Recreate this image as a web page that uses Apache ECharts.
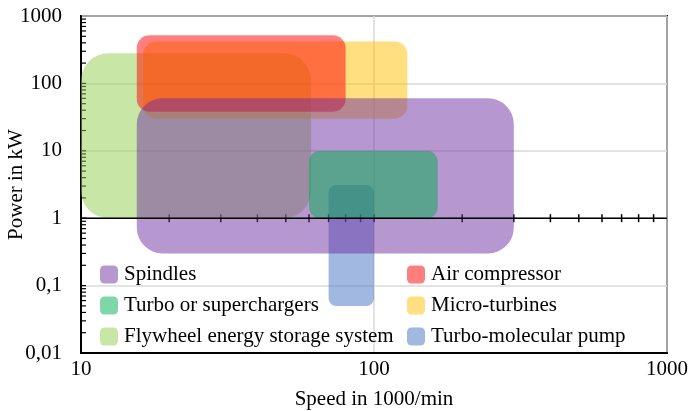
<!DOCTYPE html>
<html>
<head>
<meta charset="utf-8">
<script src="https://cdn.jsdelivr.net/npm/echarts@6/dist/echarts.min.js"></script>
<style>
  html, body { margin: 0; padding: 0; background: #fff; }
  #chart { width: 689px; height: 411px; }
</style>
</head>
<body>
<div id="chart"></div>
<script>
// Operating ranges of high-speed machine applications (log-log map)
const applications = ['Flywheel energy storage system', 'Turbo-molecular pump', 'Micro-turbines',
                      'Air compressor', 'Spindles', 'Turbo or superchargers'];
// speed range in 1000/min
const speedMin = [10, 70, 16.3, 15.5, 15.5, 60];
const speedMax = [61, 100, 130, 80, 300, 165];
// power range in kW
const powerMin = [1, 0.05, 30, 38, 0.3, 1];
const powerMax = [280, 3.1, 420, 520, 60, 10];
const fills = ['rgba(146,208,80,0.5)', 'rgba(68,114,196,0.5)', 'rgba(255,192,0,0.5)',
               'rgba(255,0,0,0.5)', 'rgba(112,48,160,0.5)', 'rgba(0,176,80,0.5)'];

const legendLeft = ['Spindles', 'Turbo or superchargers', 'Flywheel energy storage system'];
const legendRight = ['Air compressor', 'Micro-turbines', 'Turbo-molecular pump'];

// minor tick positions on the speed axis drawn through P = 1 kW, and on the power axis
const speedTicks = [20, 30, 40, 50, 60, 70, 80, 90, 100, 200, 300, 400, 500, 600, 700, 800, 900];
const powerTicks = [0.02, 0.03, 0.04, 0.05, 0.06, 0.07, 0.08, 0.09, 0.1,
                    0.2, 0.3, 0.4, 0.5, 0.6, 0.7, 0.8, 0.9, 1,
                    2, 3, 4, 5, 6, 7, 8, 9, 10,
                    20, 30, 40, 50, 60, 70, 80, 90, 100,
                    200, 300, 400, 500, 600, 700, 800, 900];
const speedRange = [10, 1000];
const powerRange = [0.01, 1000];
const crossPower = 1;

const FONT = 'Liberation Serif';

function renderRange(params, api) {
  const tl = api.coord([api.value(0), api.value(3)]);
  const br = api.coord([api.value(1), api.value(2)]);
  const w = br[0] - tl[0];
  const h = br[1] - tl[1];
  return {
    type: 'rect',
    shape: { x: tl[0], y: tl[1], width: w, height: h, r: Math.min(w, h) / 6 },
    style: { fill: api.visual('color') }
  };
}

const rangeSeries = applications.map((name, i) => ({
  type: 'custom',
  name: name,
  renderItem: renderRange,
  itemStyle: { color: fills[i] },
  encode: { x: [0, 1], y: [2, 3] },
  data: [[speedMin[i], speedMax[i], powerMin[i], powerMax[i]]],
  silent: true
}));

const chart = echarts.init(document.getElementById('chart'), null, { renderer: 'canvas' });

const legendBase = {
  orient: 'vertical',
  top: 264,
  padding: 0,
  itemWidth: 18,
  itemHeight: 18,
  itemGap: 10,
  icon: 'roundRect',
  selectedMode: false,
  textStyle: { fontFamily: FONT, fontSize: 21, color: '#000', padding: [0, 0, 0, 1] }
};

chart.setOption({
  animation: false,
  backgroundColor: '#fff',
  grid: {
    left: 81, right: 22, top: 16, bottom: 58,
    containLabel: false, outerBoundsMode: 'none',
    show: true, borderColor: '#000', borderWidth: 2, backgroundColor: 'transparent'
  },
  legend: [
    Object.assign({}, legendBase, { left: 100, data: legendLeft }),
    Object.assign({}, legendBase, { left: 407, data: legendRight })
  ],
  xAxis: {
    type: 'log', logBase: 10, min: speedRange[0], max: speedRange[1],
    name: 'Speed in 1000/min', nameLocation: 'middle', nameGap: 36, nameMoveOverlap: false,
    nameTextStyle: { fontFamily: FONT, fontSize: 21, color: '#000' },
    axisLine: { show: true, lineStyle: { color: '#000', width: 2 } },
    axisTick: { show: false },
    axisLabel: { fontFamily: FONT, fontSize: 21, color: '#000', margin: 6,
                 formatter: v => String(v) },
    splitLine: { show: true, lineStyle: { color: '#d9d9d9', width: 1.5 } }
  },
  yAxis: {
    type: 'log', logBase: 10, min: powerRange[0], max: powerRange[1],
    name: 'Power in kW', nameLocation: 'middle', nameGap: 54, nameMoveOverlap: false,
    nameTextStyle: { fontFamily: FONT, fontSize: 21, color: '#000' },
    axisLine: { show: true, lineStyle: { color: '#000', width: 2 } },
    axisTick: { show: false },
    axisLabel: { fontFamily: FONT, fontSize: 21, color: '#000', margin: 19,
                 formatter: v => String(+v.toPrecision(6)).replace('.', ',') },
    splitLine: { show: true, lineStyle: { color: '#d9d9d9', width: 1.5 } }
  },
  series: [
    {
      // horizontal axis line through P = 1 kW
      type: 'line', name: 'axis-1kW', silent: true, symbol: 'none',
      lineStyle: { color: '#000', width: 1.5 },
      data: [[speedRange[0], crossPower], [speedRange[1], crossPower]]
    },
    {
      type: 'custom', name: 'speed-ticks', silent: true,
      data: speedTicks.map(v => [v, crossPower]),
      renderItem: (params, api) => {
        const p = api.coord([api.value(0), api.value(1)]);
        return { type: 'line', shape: { x1: p[0], y1: p[1] - 4, x2: p[0], y2: p[1] + 4 },
                 style: { stroke: '#000', lineWidth: 1.5 } };
      }
    },
    {
      type: 'custom', name: 'power-ticks', silent: true,
      data: powerTicks.map(v => [speedRange[0], v]),
      renderItem: (params, api) => {
        const p = api.coord([api.value(0), api.value(1)]);
        return { type: 'line', shape: { x1: p[0], y1: p[1], x2: p[0] + 5, y2: p[1] },
                 style: { stroke: '#000', lineWidth: 1.2 } };
      }
    }
  ].concat(rangeSeries)
});
</script>
</body>
</html>
